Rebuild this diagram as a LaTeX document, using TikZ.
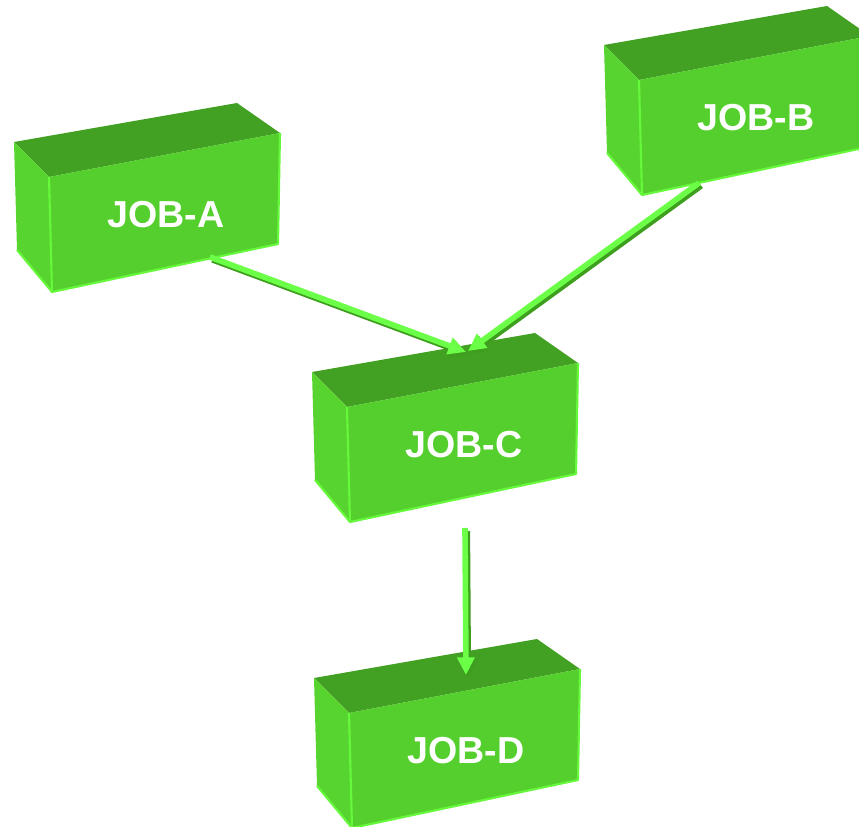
\documentclass[tikz,border=0pt]{standalone}
\usepackage{fontspec}
\setmainfont{Liberation Sans}
\usepackage{xcolor}
\usetikzlibrary{arrows.meta,calc}

\definecolor{topgreen}{HTML}{42A022}
\definecolor{frontgreen}{HTML}{55CF2D}
\definecolor{sidegreen}{HTML}{58D430}
\definecolor{edgegreen}{HTML}{66F83A}
\definecolor{flowgreen}{HTML}{6CFF48}
\definecolor{flowshade}{HTML}{3E9E1E}

\tikzset{
    boxtop/.style={fill=topgreen},
    boxside/.style={fill=sidegreen},
    boxfront/.style={fill=frontgreen},
    boxedge/.style={draw=edgegreen, line width=1.2pt, line join=round},
    jobtext/.style={text=white, font=\fontsize{21.4}{24}\selectfont\bfseries, inner sep=0pt},
    flow/.style={draw=flowgreen, line width=3.2pt, -{Triangle[length=10pt,width=9.5pt]}},
    flowshadow/.style={draw=flowshade, line width=3.2pt, -{Triangle[length=10pt,width=9.5pt]},
        transform canvas={xshift=1.3pt, yshift=-1.6pt}}
}

% one job box, front top-left corner at #2
\newcommand{\jobbox}[3]{%
    \begin{scope}[shift={(#2)}]
        \path[boxtop] (0,0) -- (-35,-35) -- (188,-74) -- (231,-44) -- cycle;
        \path[boxside] (0,0) -- (-35,-35) -- (-32,73) -- (3,115) -- cycle;
        \path[boxfront] (0,0) -- (231,-44) -- (229,67) -- (3,115) -- cycle;
        \draw[boxedge] (-32,73) -- (3,115) -- (229,67) -- (231,-44);
        \draw[boxedge] (0,0) -- (3,115);
        \node[jobtext] (#1) at (117,38) {#3};
    \end{scope}}

\begin{document}
\begin{tikzpicture}[x=0.02cm, y=-0.02cm]
    \useasboundingbox (0,0) rectangle (859,827);
    \clip (0,0) rectangle (859,827);

    \jobbox{jobA}{49,177}{JOB-A}
    \jobbox{jobB}{639,80}{JOB-B}
    \jobbox{jobC}{347,407}{JOB-C}
    \jobbox{jobD}{349,713}{JOB-D}

    % dependencies
    \draw[flowshadow] ($(jobA)+(44,42)$) -- ($(jobC)+(2,-93)$);
    \draw[flow] ($(jobA)+(44,42)$) -- ($(jobC)+(2,-93)$);
    \draw[flowshadow] ($(jobB)+(-57,65)$) -- ($(jobC)+(4,-94)$);
    \draw[flow] ($(jobB)+(-57,65)$) -- ($(jobC)+(4,-94)$);
    \draw[flowshadow] ($(jobC)+(1,83)$) -- ($(jobD)+(0,-76)$);
    \draw[flow] ($(jobC)+(1,83)$) -- ($(jobD)+(0,-76)$);
\end{tikzpicture}
\end{document}
